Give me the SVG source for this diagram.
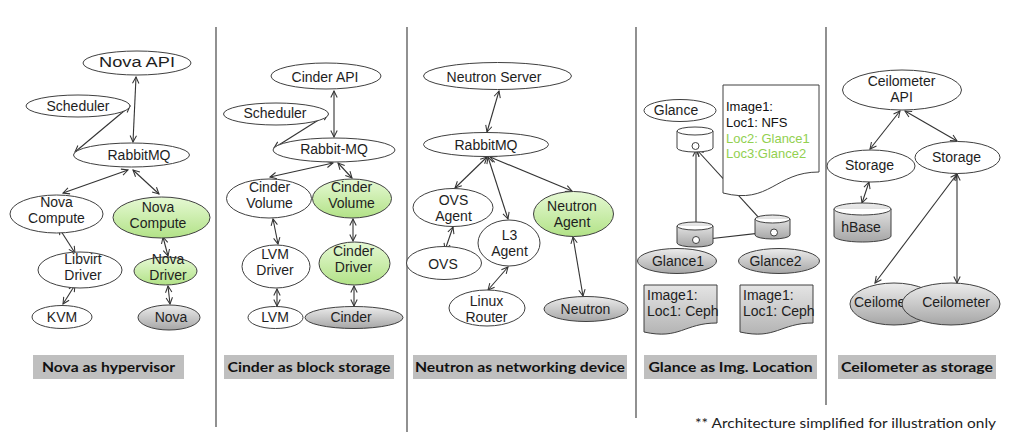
<svg xmlns="http://www.w3.org/2000/svg" width="1009" height="432" viewBox="0 0 1009 432">
<style>
.n{stroke:#404040;stroke-width:1;fill:#fff}
.g{fill:url(#gGreen)}
.k{fill:url(#gGray)}
.d{fill:url(#gDoc)}
.t{font-family:"Liberation Sans",Arial,sans-serif;font-size:14px;fill:#1e1e1e;text-anchor:middle}
.s{text-anchor:start}
.a{font-family:"Liberation Sans",Arial,sans-serif;font-size:13px;fill:#111;text-anchor:start}
.gr{fill:#92d050}
.c{stroke:#333;stroke-width:1.1;fill:none;marker-start:url(#ah);marker-end:url(#ah)}
.dv{stroke:#555;stroke-width:1.3}
.lb{fill:#bfbfbf}
.lt{font-family:Lato,"Liberation Sans",sans-serif;font-weight:bold;font-size:14px;fill:#111;text-anchor:middle}
.fn{font-family:Lato,"Liberation Sans",sans-serif;font-size:14px;fill:#222}
</style>
<defs>
<linearGradient id="gGreen" x1="0" y1="0" x2="0" y2="1"><stop offset="0" stop-color="#e6f9d4"/><stop offset="1" stop-color="#b2e287"/></linearGradient>
<linearGradient id="gGray" x1="0" y1="0" x2="0" y2="1"><stop offset="0" stop-color="#ececec"/><stop offset="1" stop-color="#a6a6a6"/></linearGradient>
<linearGradient id="gDoc" x1="0" y1="0" x2="0" y2="1"><stop offset="0" stop-color="#e4e4e4"/><stop offset="1" stop-color="#b4b4b4"/></linearGradient>
<marker id="ah" viewBox="0 0 10 10" refX="9" refY="5" markerWidth="8" markerHeight="8" markerUnits="userSpaceOnUse" orient="auto-start-reverse"><path d="M1,1 L9,5 L1,9" fill="none" stroke="#333" stroke-width="1.3"/></marker>
</defs>
<rect width="1009" height="432" fill="#fff"/>

<g id="dividers">
<line class="dv" x1="216" y1="27" x2="216" y2="427"/>
<line class="dv" x1="407" y1="27" x2="407" y2="432"/>
<line class="dv" x1="636" y1="27" x2="636" y2="418"/>
<line class="dv" x1="826" y1="27" x2="826" y2="405"/>
</g>

<g id="connectors">
<line class="c" x1="136" y1="77" x2="133" y2="142"/>
<line class="c" x1="130" y1="106" x2="75" y2="152"/>
<line class="c" x1="128" y1="170" x2="63" y2="193"/>
<line class="c" x1="133" y1="170" x2="159" y2="194"/>
<line class="c" x1="59" y1="228" x2="75" y2="253"/>
<line class="c" x1="75" y1="285" x2="63" y2="304"/>
<line class="c" x1="163" y1="237" x2="168" y2="256"/>
<line class="c" x1="168" y1="286" x2="170" y2="304"/>

<line class="c" x1="334" y1="91" x2="334" y2="137"/>
<line class="c" x1="328" y1="114" x2="274" y2="148"/>
<line class="c" x1="333" y1="163" x2="270" y2="177"/>
<line class="c" x1="338" y1="163" x2="352" y2="178"/>
<line class="c" x1="273" y1="219" x2="278" y2="244"/>
<line class="c" x1="277" y1="289" x2="277" y2="306"/>
<line class="c" x1="353" y1="219" x2="353" y2="241"/>
<line class="c" x1="354" y1="286" x2="354" y2="306"/>

<line class="c" x1="499" y1="91" x2="487" y2="132"/>
<line class="c" x1="487" y1="157" x2="455" y2="188"/>
<line class="c" x1="488" y1="157" x2="508" y2="219"/>
<line class="c" x1="490" y1="157" x2="572" y2="191"/>
<line class="c" x1="453" y1="227" x2="445" y2="250"/>
<line class="c" x1="508" y1="267" x2="488" y2="290"/>
<line class="c" x1="573" y1="237" x2="583" y2="296"/>

<line class="c" x1="696" y1="150" x2="696" y2="236"/>
<line class="c" x1="697" y1="150" x2="771" y2="231"/>
<line class="c" x1="699" y1="240" x2="770" y2="232"/>

<line class="c" x1="900" y1="111" x2="870" y2="149"/>
<line class="c" x1="905" y1="111" x2="957" y2="141"/>
<line class="c" x1="869" y1="182" x2="862" y2="203"/>
<line class="c" x1="957" y1="174" x2="875" y2="283"/>
<line class="c" x1="957" y1="174" x2="957" y2="283"/>
</g>

<!-- Nova -->
<g id="nova-api"><ellipse class="n" cx="137" cy="63" rx="54" ry="12"/><text class="t" x="137" y="67" textLength="76" lengthAdjust="spacingAndGlyphs">Nova API</text></g>
<g id="nova-scheduler"><ellipse class="n" cx="78" cy="106" rx="52" ry="11"/><text class="t" x="78" y="111">Scheduler</text></g>
<g id="nova-rabbitmq"><ellipse class="n" cx="131.5" cy="155" rx="58" ry="12"/><text class="t" x="139" y="160">RabbitMQ</text></g>
<g id="nova-compute-1"><ellipse class="n" cx="56.5" cy="214" rx="46.5" ry="19"/><text class="t" x="56.5" y="207">Nova</text><text class="t" x="56.5" y="223">Compute</text></g>
<g id="nova-compute-2"><ellipse class="n g" cx="161.5" cy="217.5" rx="48.5" ry="20.5"/><text class="t" x="158" y="212">Nova</text><text class="t" x="158" y="228">Compute</text></g>
<g id="libvirt-driver"><ellipse class="n" cx="80" cy="270" rx="42" ry="18"/><text class="t" x="83" y="264">Libvirt</text><text class="t" x="83" y="280">Driver</text></g>
<g id="nova-driver"><ellipse class="n g" cx="165.5" cy="271" rx="31.5" ry="14"/><text class="t" x="168" y="264">Nova</text><text class="t" x="168" y="280">Driver</text></g>
<g id="kvm"><ellipse class="n" cx="62" cy="317" rx="30" ry="11.5"/><text class="t" x="62" y="322">KVM</text></g>
<g id="nova"><ellipse class="n k" cx="169" cy="317.5" rx="31" ry="12.5"/><text class="t" x="171" y="322">Nova</text></g>

<!-- Cinder -->
<g id="cinder-api"><ellipse class="n" cx="326" cy="76" rx="55" ry="13"/><text class="t" x="325" y="82">Cinder API</text></g>
<g id="cinder-scheduler"><ellipse class="n" cx="276" cy="114" rx="52.5" ry="11"/><text class="t" x="275" y="118">Scheduler</text></g>
<g id="cinder-rabbitmq"><ellipse class="n" cx="334" cy="150" rx="61" ry="12"/><text class="t" x="334" y="154">Rabbit-MQ</text></g>
<g id="cinder-volume-1"><ellipse class="n" cx="269" cy="198.5" rx="42.5" ry="19.5"/><text class="t" x="269.5" y="192">Cinder</text><text class="t" x="269.5" y="208">Volume</text></g>
<g id="cinder-volume-2"><ellipse class="n g" cx="352" cy="198.5" rx="39.5" ry="19.5"/><text class="t" x="351.5" y="192">Cinder</text><text class="t" x="351.5" y="208">Volume</text></g>
<g id="lvm-driver"><ellipse class="n" cx="276" cy="266.5" rx="34" ry="21.5"/><text class="t" x="275" y="259">LVM</text><text class="t" x="275" y="275">Driver</text></g>
<g id="cinder-driver"><ellipse class="n g" cx="354.5" cy="263.5" rx="35.5" ry="21.5"/><text class="t" x="353.5" y="256">Cinder</text><text class="t" x="353.5" y="272">Driver</text></g>
<g id="lvm"><ellipse class="n" cx="275.5" cy="317.5" rx="27.5" ry="11"/><text class="t" x="275" y="322">LVM</text></g>
<g id="cinder"><ellipse class="n k" cx="354" cy="317.5" rx="49" ry="11"/><text class="t" x="351" y="322">Cinder</text></g>

<!-- Neutron -->
<g id="neutron-server"><ellipse class="n" cx="497.5" cy="76" rx="74" ry="13.5"/><text class="t" x="494" y="82">Neutron Server</text></g>
<g id="neutron-rabbitmq"><ellipse class="n" cx="486" cy="144.5" rx="62.5" ry="12"/><text class="t" x="486" y="149.5">RabbitMQ</text></g>
<g id="ovs-agent"><ellipse class="n" cx="453" cy="207.5" rx="40" ry="19"/><text class="t" x="453.5" y="205">OVS</text><text class="t" x="453.5" y="221">Agent</text></g>
<g id="l3-agent"><ellipse class="n" cx="509" cy="243" rx="31" ry="23"/><text class="t" x="509.5" y="240">L3</text><text class="t" x="509.5" y="256">Agent</text></g>
<g id="neutron-agent"><ellipse class="n g" cx="573.5" cy="214" rx="40" ry="22.5"/><text class="t" x="572" y="211">Neutron</text><text class="t" x="572" y="227">Agent</text></g>
<g id="ovs"><ellipse class="n" cx="444" cy="263" rx="37.5" ry="16.5"/><text class="t" x="443" y="269">OVS</text></g>
<g id="linux-router"><ellipse class="n" cx="487" cy="308" rx="38" ry="18"/><text class="t" x="486.5" y="306">Linux</text><text class="t" x="486.5" y="322">Router</text></g>
<g id="neutron"><ellipse class="n k" cx="586" cy="309" rx="42" ry="12.5"/><text class="t" x="585.5" y="314">Neutron</text></g>

<!-- Glance -->
<g id="glance"><ellipse class="n" cx="680" cy="110.5" rx="36" ry="11"/><text class="t" x="676" y="115">Glance</text></g>
<g id="glance-store"><path class="n" d="M677,131 A18,4 0 0,1 713,131 V148 A18,4 0 0,1 677,148 Z"/><path class="n" fill="none" d="M677,131 A18,4 0 0,0 713,131"/><circle class="n" cx="695.5" cy="146" r="3.5"/></g>
<g id="glance-doc"><path class="n" d="M723,85 H819 V172 C775,172 770,205 723,193 Z"/>
<text class="a" x="726" y="111">Image1:</text><text class="a" x="726" y="127">Loc1: NFS</text><text class="a gr" x="726" y="143">Loc2: Glance1</text><text class="a gr" x="726" y="158">Loc3:Glance2</text></g>
<g id="glance1-store"><path class="n k" d="M677,226 A18,4 0 0,1 713,226 V243 A18,4 0 0,1 677,243 Z"/><path class="n" fill="none" d="M677,226 A18,4 0 0,0 713,226"/><circle class="n" cx="696" cy="240" r="3.5"/></g>
<g id="glance2-store"><path class="n k" d="M755,219 A17.5,4 0 0,1 790,219 V235 A17.5,4 0 0,1 755,235 Z"/><path class="n" fill="none" d="M755,219 A17.5,4 0 0,0 790,219"/><circle class="n" cx="774" cy="232.5" r="3.5"/></g>
<g id="glance1"><ellipse class="n k" cx="677" cy="261" rx="39.5" ry="12.5"/><text class="t" x="678" y="266">Glance1</text></g>
<g id="glance2"><ellipse class="n k" cx="779" cy="261" rx="40.5" ry="12.5"/><text class="t" x="775.5" y="266">Glance2</text></g>
<g id="glance1-doc"><path class="n d" d="M644,285 H717 V323 C684,323 680,340 644,332 Z"/><text class="t s" x="647" y="300">Image1:</text><text class="t s" x="647" y="316">Loc1: Ceph</text></g>
<g id="glance2-doc"><path class="n d" d="M740,285 H813 V323 C780,323 776,340 740,332 Z"/><text class="t s" x="743" y="300">Image1:</text><text class="t s" x="743" y="316">Loc1: Ceph</text></g>

<!-- Ceilometer -->
<g id="ceilometer-api"><ellipse class="n" cx="902" cy="90" rx="59.5" ry="20"/><text class="t" x="901.5" y="86">Ceilometer</text><text class="t" x="901.5" y="102">API</text></g>
<g id="storage-1"><ellipse class="n" cx="871" cy="166" rx="44" ry="16"/><text class="t" x="869.5" y="170">Storage</text></g>
<g id="storage-2"><ellipse class="n" cx="957.5" cy="157.5" rx="42.5" ry="16"/><text class="t" x="956.5" y="162">Storage</text></g>
<g id="hbase"><path class="n k" d="M834,209 A28.5,6 0 0,1 891,209 V236 A28.5,6 0 0,1 834,236 Z"/><path class="n" fill="none" d="M834,209 A28.5,6 0 0,0 891,209"/><text class="t" x="861" y="232">hBase</text></g>
<g id="ceilometer-1"><ellipse class="n k" cx="894" cy="304" rx="44" ry="21"/><text class="t s" x="854" y="307">Ceilometer</text></g>
<g id="ceilometer-2"><ellipse class="n k" cx="951" cy="304" rx="49" ry="21"/><text class="t" x="956" y="307">Ceilometer</text></g>

<g id="labels">
<rect class="lb" x="33" y="355" width="151" height="24"/><text class="lt" x="108.5" y="372" textLength="133" lengthAdjust="spacingAndGlyphs">Nova as hypervisor</text>
<rect class="lb" x="224" y="355" width="170" height="24"/><text class="lt" x="309" y="372" textLength="163" lengthAdjust="spacingAndGlyphs">Cinder as block storage</text>
<rect class="lb" x="413" y="355" width="214" height="24"/><text class="lt" x="520" y="372" textLength="210" lengthAdjust="spacingAndGlyphs">Neutron as networking device</text>
<rect class="lb" x="644" y="355" width="173" height="24"/><text class="lt" x="730.5" y="372" textLength="164" lengthAdjust="spacingAndGlyphs">Glance as Img. Location</text>
<rect class="lb" x="838" y="355" width="158" height="24"/><text class="lt" x="917" y="372" textLength="152" lengthAdjust="spacingAndGlyphs">Ceilometer as storage</text>
<text class="fn" x="695" y="428" textLength="301" lengthAdjust="spacingAndGlyphs">** Architecture simplified for illustration only</text>
</g>
</svg>
